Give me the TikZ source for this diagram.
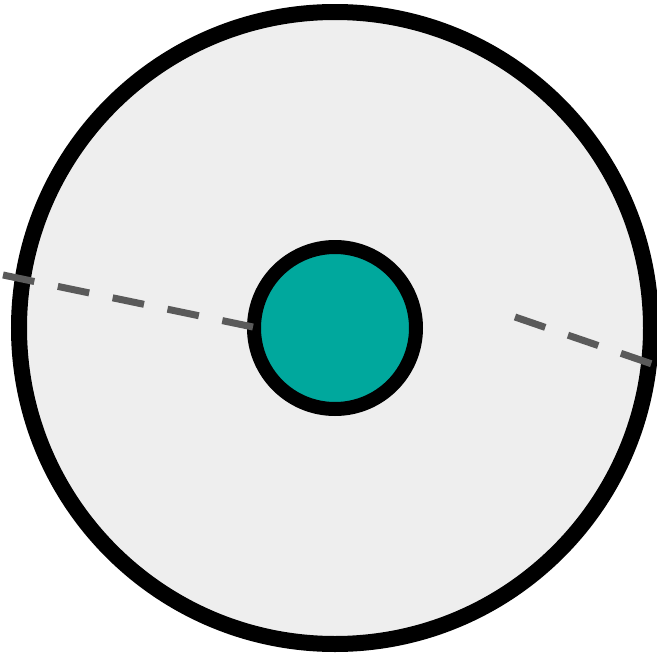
\documentclass[tikz,border=0pt]{standalone}
\usetikzlibrary{calc}
\definecolor{platefill}{RGB}{238,238,238}
\definecolor{hubteal}{RGB}{0,168,157}
\definecolor{guidegray}{RGB}{90,90,90}
\tikzset{
  plate/.style={draw=black, fill=platefill, line width=16pt},
  hub/.style  ={draw=black, fill=hubteal, line width=14pt},
  guide/.style={draw=guidegray, line width=7pt, dash pattern=on 32pt off 24pt},
}
\begin{document}
\begin{tikzpicture}[x=1pt,y=-1pt]
\useasboundingbox (0,0) rectangle (657,656);
\coordinate (c) at (335,328);
\draw[plate] (c) circle[radius=316];
\draw[hub] (c) circle[radius=81];
% guide lines
\coordinate (l1) at (3,275);
\coordinate (l2) at (253,327);
\coordinate (r1) at (515,317);
\coordinate (r2) at (652,364);
\draw[guide] (l1) -- (l2);
\draw[guide] (r1) -- (r2);
\end{tikzpicture}
\end{document}
